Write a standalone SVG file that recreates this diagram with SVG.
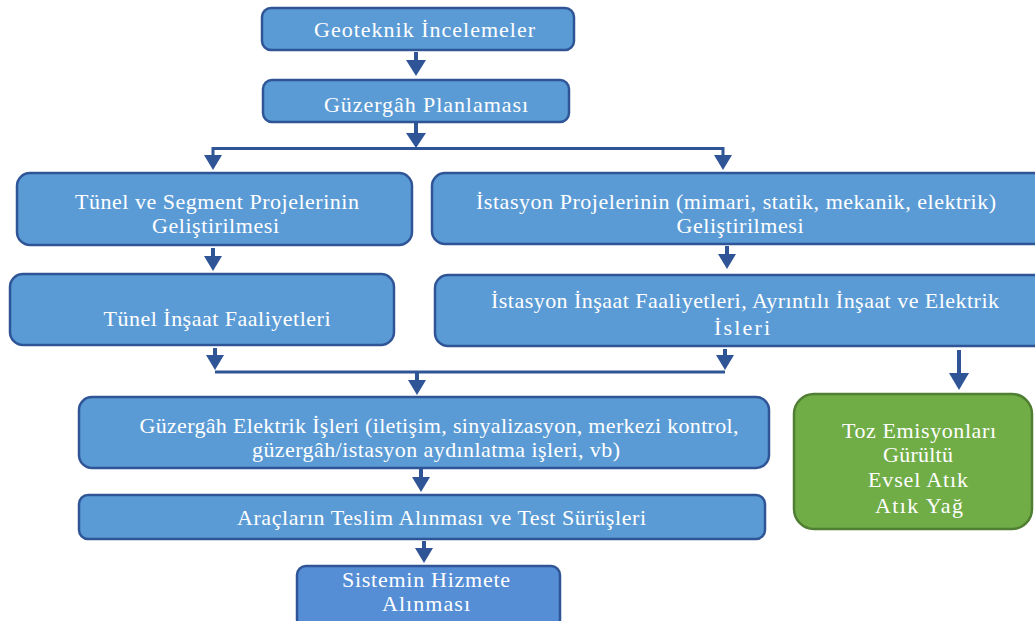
<svg xmlns="http://www.w3.org/2000/svg" width="1035" height="621" viewBox="0 0 1035 621">
<defs>
<style>
.b{fill:#5b9bd5;stroke:#2f5597;stroke-width:2.5}
.b2{fill:#558ed5;stroke:#2f5597;stroke-width:2.5}
.g{fill:#70ad47;stroke:#507e32;stroke-width:2.5}
.c{stroke:#2f5597;stroke-width:3;fill:none}
.s{stroke:#2f5597;stroke-width:4;fill:none}
.h{fill:#2f5597}
</style>
</defs>
<rect width="1035" height="621" fill="#ffffff"/>
<g id="connectors">
<line class="s" x1="416" y1="52" x2="416" y2="61"/><polygon class="h" points="406,60 426,60 416,76"/>
<line class="s" x1="416" y1="123" x2="416" y2="134"/><polygon class="h" points="406,133 426,133 416,148"/>
<polyline class="c" points="213,160 213,148.5 723,148.5 723,160"/>
<polygon class="h" points="204,155 222,155 213,170"/>
<polygon class="h" points="714,155 732,155 723,170"/>
<line class="s" x1="213" y1="248" x2="213" y2="258"/><polygon class="h" points="204,256 222,256 213,271"/>
<line class="s" x1="727" y1="246" x2="727" y2="256"/><polygon class="h" points="718,254 736,254 727,269"/>
<line class="s" x1="215" y1="348" x2="215" y2="356"/><polygon class="h" points="206,355 224,355 215,370"/>
<line class="s" x1="725" y1="349" x2="725" y2="356"/><polygon class="h" points="716,355 734,355 725,370"/>
<line class="c" x1="215" y1="372" x2="725" y2="372"/>
<line class="s" x1="417" y1="372" x2="417" y2="381"/><polygon class="h" points="408,380 426,380 417,395"/>
<line class="s" x1="959" y1="350" x2="959" y2="374"/><polygon class="h" points="949,373 969,373 959,390"/>
<line class="s" x1="421" y1="469" x2="421" y2="478"/><polygon class="h" points="412,477 430,477 421,492"/>
<line class="s" x1="424" y1="541" x2="424" y2="549"/><polygon class="h" points="415,548 433,548 424,563"/>
</g>
<g font-family="Liberation Serif, serif" font-size="22" fill="#ffffff" text-anchor="middle">
<g id="n1"><rect class="b" x="262" y="8" width="312" height="42" rx="9"/><text x="424.5" y="37" textLength="221" lengthAdjust="spacing">Geoteknik İncelemeler</text></g>
<g id="n2"><rect class="b" x="263" y="80" width="306" height="42" rx="9"/><text x="426" y="112" textLength="204" lengthAdjust="spacing">Güzergâh Planlaması</text></g>
<g id="n3"><rect class="b" x="17" y="173" width="395" height="72" rx="13"/><text x="217" y="209" textLength="284" lengthAdjust="spacing">Tünel ve Segment Projelerinin</text><text x="215.5" y="233" textLength="127" lengthAdjust="spacing">Geliştirilmesi</text></g>
<g id="n4"><rect class="b" x="432" y="173" width="615" height="71" rx="13"/><text x="736" y="209" textLength="520" lengthAdjust="spacing">İstasyon Projelerinin (mimari, statik, mekanik, elektrik)</text><text x="740" y="233" textLength="127" lengthAdjust="spacing">Geliştirilmesi</text></g>
<g id="n5"><rect class="b" x="10" y="274" width="384" height="71" rx="13"/><text x="217" y="326" textLength="227" lengthAdjust="spacing">Tünel İnşaat Faaliyetleri</text></g>
<g id="n6"><rect class="b" x="435" y="275" width="612" height="71" rx="13"/><text x="745" y="308" textLength="508" lengthAdjust="spacing">İstasyon İnşaat Faaliyetleri, Ayrıntılı İnşaat ve Elektrik</text><text x="742" y="335" textLength="56" lengthAdjust="spacing">İsleri</text></g>
<g id="n7"><rect class="b" x="79" y="397" width="690" height="71" rx="13"/><text x="439" y="433" textLength="599" lengthAdjust="spacing">Güzergâh Elektrik İşleri (iletişim, sinyalizasyon, merkezi kontrol,</text><text x="436" y="457" textLength="368" lengthAdjust="spacing">güzergâh/istasyon aydınlatma işleri, vb)</text></g>
<g id="n8"><rect class="b" x="79" y="495" width="686" height="44" rx="9"/><text x="441.5" y="525" textLength="409" lengthAdjust="spacing">Araçların Teslim Alınması ve Test Sürüşleri</text></g>
<g id="n9"><rect class="b2" x="297" y="566" width="263" height="62" rx="9"/><text x="426" y="587" textLength="168" lengthAdjust="spacing">Sistemin Hizmete</text><text x="426" y="611" textLength="88" lengthAdjust="spacing">Alınması</text></g>
<g id="n10"><rect class="g" x="794" y="394" width="238" height="135" rx="20"/><text x="919" y="438" textLength="154" lengthAdjust="spacing">Toz Emisyonları</text><text x="918" y="462" textLength="70" lengthAdjust="spacing">Gürültü</text><text x="918" y="487" textLength="100" lengthAdjust="spacing">Evsel Atık</text><text x="919" y="513" textLength="88" lengthAdjust="spacing">Atık Yağ</text></g>
</g>
</svg>
